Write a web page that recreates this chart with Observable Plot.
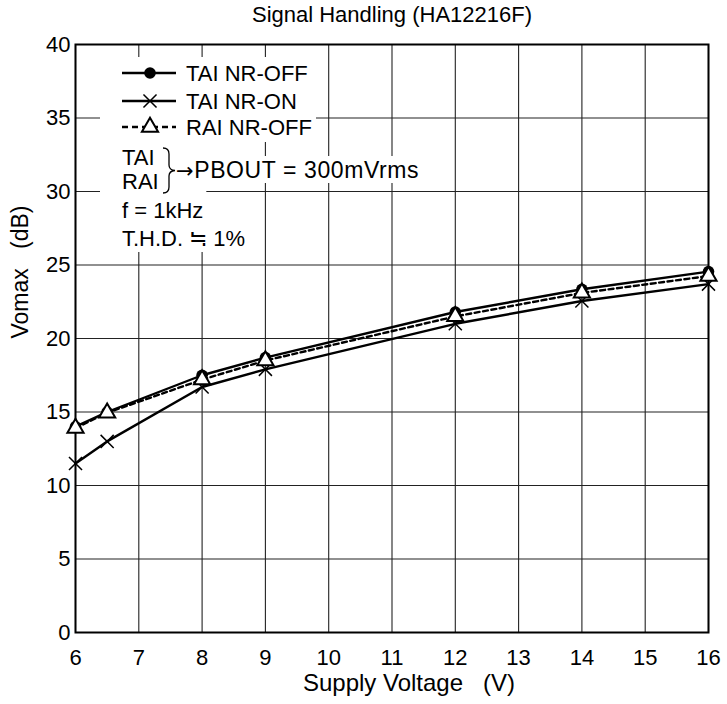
<!DOCTYPE html>
<html><head><meta charset="utf-8">
<script src="https://cdn.jsdelivr.net/npm/d3@7"></script>
<script src="https://cdn.jsdelivr.net/npm/@observablehq/plot@0.6"></script>
<style>
body{margin:0;background:#fff;}
#chart{width:727px;height:704px;}
</style></head><body><div id="chart"></div>
<script>
// ---- data ----
const voltage = [6, 6.5, 8, 9, 12, 14, 16];
const taiNrOff = [14.0, 15.0, 17.5, 18.7, 21.8, 23.35, 24.55];
const taiNrOn = [11.5, 13.0, 16.7, 17.9, 21.0, 22.55, 23.7];
const raiNrOff = [13.9, 14.95, 17.2, 18.5, 21.5, 23.1, 24.25];
const xTicks = [6, 7, 8, 9, 10, 11, 12, 13, 14, 15, 16];
const yTicks = [0, 5, 10, 15, 20, 25, 30, 35, 40];
const seriesNames = ["TAI NR-OFF", "TAI NR-ON", "RAI NR-OFF"];
const title = "Signal Handling (HA12216F)";
const xLabel = "Supply Voltage\u00a0\u00a0\u00a0(V)";
const yLabel = "Vomax\u00a0\u00a0\u00a0(dB)";
const noteLeft = ["TAI", "RAI"];
const noteArrow = "\u2192";
const noteRight = "PBOUT = 300mVrms";
const noteLines = ["f = 1kHz", "T.H.D. \u2252 1%"];

const rows = vals => voltage.map((v, i) => ({v, y: vals[i]}));
const font = "'Liberation Sans', Arial, Helvetica, sans-serif";
const R = 6;

const chart = Plot.plot({
  width: 727, height: 704,
  marginLeft: 75, marginRight: 19, marginTop: 44, marginBottom: 72,
  style: {fontFamily: font, fontSize: "22px", color: "#000", background: "#fff", overflow: "visible"},
  x: {domain: [6, 16], ticks: xTicks, tickSize: 0, tickPadding: 17, label: null},
  y: {domain: [0, 40], ticks: yTicks, tickSize: 0, tickPadding: 5, label: null},
  marks: [
    Plot.ruleX(xTicks, {stroke: "#222", strokeWidth: 1.1}),
    Plot.ruleY(yTicks, {stroke: "#222", strokeWidth: 1.1}),
    Plot.frame({stroke: "#000", strokeWidth: 2}),
    Plot.line(rows(taiNrOn), {x: "v", y: "y", stroke: "#000", strokeWidth: 2.4}),
    Plot.line(rows(raiNrOff), {x: "v", y: "y", stroke: "#000", strokeWidth: 2.4, strokeDasharray: "5,3.5"}),
    Plot.line(rows(taiNrOff), {x: "v", y: "y", stroke: "#000", strokeWidth: 2.4}),
    Plot.dot(rows(taiNrOff), {x: "v", y: "y", r: 5.8, fill: "#000"}),
    Plot.dot(rows(taiNrOn), {x: "v", y: "y", symbol: "times", r: R, stroke: "#000", strokeWidth: 1.5}),
    Plot.dot(rows(raiNrOff), {x: "v", y: "y", symbol: "triangle", r: R, fill: "#fff", stroke: "#000", strokeWidth: 2}),
    Plot.text([title], {frameAnchor: "top", lineAnchor: "middle", dy: -30, fontSize: 22}),
    Plot.text([xLabel], {frameAnchor: "bottom", lineAnchor: "middle", dx: 17, dy: 51, fontSize: 24}),
    Plot.text([yLabel], {frameAnchor: "left", lineAnchor: "middle", dx: -55, rotate: -90, fontSize: 23})
  ]
});
document.getElementById("chart").append(chart);

// ---- in-plot legend / notes ----
const svg = d3.select(chart);
const g = svg.append("g").attr("font-family", font).attr("font-size", 22)
  .attr("fill", "#000").attr("text-anchor", "start");
const bg = g.append("g");
const fg = g.append("g");
bg.append("rect").attr("x", 100).attr("y", 57).attr("width", 216).attr("height", 85).attr("fill", "#fff");
const rowY = [73, 101, 127];
const sx0 = 122, sx1 = 176, sxc = 150;
seriesNames.forEach((name, i) => {
  const y = rowY[i];
  fg.append("line").attr("x1", sx0).attr("x2", sx1).attr("y1", y).attr("y2", y)
    .attr("stroke", "#000").attr("stroke-width", 2.4)
    .attr("stroke-dasharray", i === 2 ? "6,4" : null);
  if (i === 0) fg.append("circle").attr("cx", sxc).attr("cy", y).attr("r", 5.8).attr("fill", "#000");
  if (i === 1) fg.append("path").attr("transform", `translate(${sxc},${y})`)
    .attr("d", d3.symbol(d3.symbolTimes, Math.PI * R * R)()).attr("fill", "none").attr("stroke", "#000").attr("stroke-width", 1.5);
  if (i === 2) fg.append("path").attr("transform", `translate(${sxc},${y})`)
    .attr("d", d3.symbol(d3.symbolTriangle, Math.PI * R * R)()).attr("fill", "#fff").attr("stroke", "#000").attr("stroke-width", 2);
  fg.append("text").attr("x", 186).attr("y", y + 8).text(name);
});
// TAI / RAI brace block
const leftX = 122;
fg.append("text").attr("x", leftX).attr("y", 165).text(noteLeft[0]);
fg.append("text").attr("x", leftX).attr("y", 189).text(noteLeft[1]);
fg.append("path").attr("d", "M163,148 Q169,148 169,154 L169,165 Q169,170 175,170.5 Q169,171 169,176 L169,187 Q169,193 163,193")
  .attr("fill", "none").attr("stroke", "#000").attr("stroke-width", 1.3);
const tPb = fg.append("text").attr("x", 176).attr("y", 178).attr("font-size", 23).attr("letter-spacing", 0.6);
tPb.append("tspan").attr("font-family", "'DejaVu Sans', sans-serif").attr("font-size", 21).text(noteArrow);
tPb.append("tspan").text(noteRight);
const tF = fg.append("text").attr("x", leftX).attr("y", 218).text(noteLines[0]);
const tT = fg.append("text").attr("x", leftX).attr("y", 246).text(noteLines[1]);
// white backgrounds
const fb = tF.node().getBBox();
bg.append("rect").attr("x", 100).attr("y", 141).attr("width", Math.max(fb.x + fb.width + 3, 176) - 100)
  .attr("height", 225 - 141).attr("fill", "#fff");
const tb = tT.node().getBBox();
bg.append("rect").attr("x", 100).attr("y", 224).attr("width", tb.x + tb.width + 4 - 100)
  .attr("height", tb.y + tb.height + 1 - 224).attr("fill", "#fff");
const pb = tPb.node().getBBox();
bg.append("rect").attr("x", pb.x - 2).attr("y", pb.y - 1).attr("width", pb.width + 6)
  .attr("height", pb.height + 1).attr("fill", "#fff");
</script>
</body></html>
